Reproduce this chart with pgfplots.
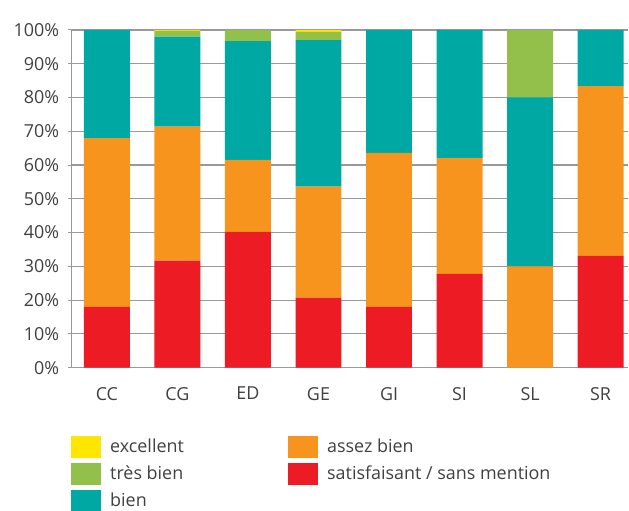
\documentclass[border=0pt]{standalone}
\usepackage{pgfplots}
\pgfplotsset{compat=1.18}
\usepackage{fontspec}
\setmainfont{Open Sans}
\definecolor{cYellow}{HTML}{FFE600}
\definecolor{cGreen}{HTML}{92C04A}
\definecolor{cTeal}{HTML}{00A8A3}
\definecolor{cOrange}{HTML}{F7941E}
\definecolor{cRed}{HTML}{ED1C24}
\definecolor{cText}{HTML}{404040}
\definecolor{cGrid}{HTML}{999999}
\begin{document}
\begin{tikzpicture}
\begin{axis}[
  at={(0,0)}, anchor=south west,
  scale only axis,
  width=557.3bp, height=338bp,
  ybar stacked, bar width=46bp,
  xmin=-0.5, xmax=7.394,
  ymin=0, ymax=100,
  xtick={0,...,7},
  xticklabels={CC,CG,ED,GE,GI,SI,SL,SR},
  ytick={0,10,...,100},
  yticklabel={\pgfmathprintnumber{\tick}\%},
  /pgf/number format/assume math mode=true,
  axis x line*=bottom, axis y line*=left,
  axis line style={cGrid, line width=1bp},
  ymajorgrids, major grid style={cGrid, line width=1.2bp},
  xtick style={draw=none},
  ytick style={cGrid, line width=1bp},
  tick align=outside, major tick length=4bp,
  ticklabel style={font=\fontsize{18}{22}\selectfont, text=cText},
  yticklabel style={xshift=-5bp},
  xticklabel style={yshift=-12bp},
  legend style={at={(axis description cs:0,0)}, anchor=north west,
    xshift=-1bp, yshift=-68bp, draw=none, fill=none, inner sep=0pt,
    font=\fontsize{18}{22}\selectfont, text=cText,
    row sep=5.5bp,
    nodes={inner xsep=10bp},
    /tikz/every even column/.append style={column sep=94bp}},
  legend columns=2,
  legend cell align=left,
  legend image code/.code={\fill[#1] (0bp,-10.5bp) rectangle (29bp,10.5bp);},
]
\addplot[fill=cRed, draw=none, forget plot] coordinates {(0,18) (1,31.7) (2,40.2) (3,20.7) (4,18) (5,27.8) (6,0) (7,33.1)};
\addplot[fill=cOrange, draw=none, forget plot] coordinates {(0,50) (1,39.7) (2,21.3) (3,32.9) (4,45.6) (5,34.3) (6,30) (7,50.3)};
\addplot[fill=cTeal, draw=none, forget plot] coordinates {(0,32) (1,26.6) (2,35.2) (3,43.4) (4,36.4) (5,37.9) (6,50) (7,16.6)};
\addplot[fill=cGreen, draw=none, forget plot] coordinates {(0,0) (1,1.7) (2,3.3) (3,2.4) (4,0) (5,0) (6,20) (7,0)};
\addplot[fill=cYellow, draw=none, forget plot] coordinates {(0,0) (1,0.3) (2,0) (3,0.6) (4,0) (5,0) (6,0) (7,0)};
\addlegendimage{cYellow}\addlegendentry{excellent}
\addlegendimage{cOrange}\addlegendentry{assez bien}
\addlegendimage{cGreen}\addlegendentry{très bien}
\addlegendimage{cRed}\addlegendentry{satisfaisant / sans mention}
\addlegendimage{cTeal}\addlegendentry{bien}
\end{axis}
\path (-71.7bp,-142bp) rectangle (557.3bp,368bp);
\end{tikzpicture}
\end{document}
